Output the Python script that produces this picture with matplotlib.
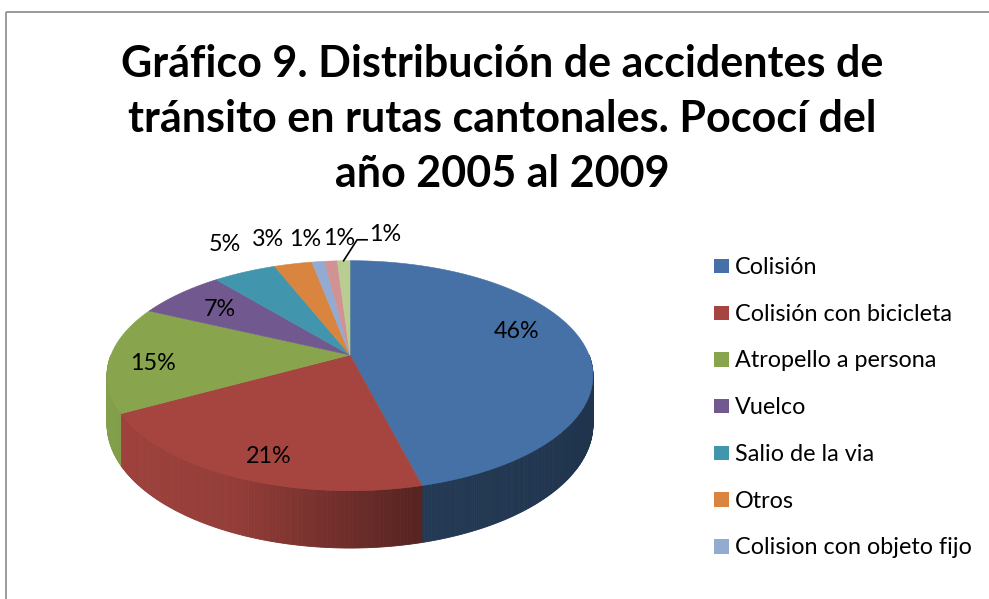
import numpy as np
import matplotlib
matplotlib.use('Agg')
import matplotlib.pyplot as plt
from matplotlib.patches import Polygon, Rectangle

# --- data ------------------------------------------------------------------
title_lines = ['Gráfico 9. Distribución de accidentes de',
               'tránsito en rutas cantonales. Pococí del',
               'año 2005 al 2009']

# only the first 7 names fit into the original legend
categories = ['Colisión', 'Colisión con bicicleta', 'Atropello a persona',
              'Vuelco', 'Salio de la via', 'Otros', 'Colision con objeto fijo']
percentages = [46, 21, 15, 7, 5, 3, 1, 1, 1]
pct_labels = ['46%', '21%', '15%', '7%', '5%', '3%', '1%', '1%', '1%']

colors = ['#4571a6', '#a6443f', '#88a44d', '#715990', '#4196ad',
          '#d9843f', '#93aad1', '#d09292', '#b9cd92']

# label placement: inside (radius fraction) or outside, plus a nudge in px
inside = [True, True, True, True, False, False, False, False, False]
label_nudge = [(-1, -7), (-4, 25), (-24, 12), (-4, 7),
               (6, 0), (-11, 4), (-5, 7), (13, 7), (43, 3)]
leader = [False] * 8 + [True]

# --- fake 3d pie geometry (perspective view of a flat cylinder) -------------
CX, CY = 350.0, 355.0      # centre of the pie top, pixels
A, S = 239.0, 111.3        # horizontal / vertical radius scale
K = 0.18                   # perspective strength
D = 47.0                   # thickness of the pie


def project(r, th, depth=0.0):
    x = r * np.cos(th)
    y = r * np.sin(th)
    w = 1 + K * y
    return CX + A * x / w, CY - S * y / w + D * depth / w


def wall_shade(c):
    # lighter on the left, dark on the right (like excel's lighting)
    return np.interp(c, [-1, -0.4, 0.25, 1], [0.86, 0.78, 0.45, 0.40])


def darker(col, f):
    rgb = np.array(matplotlib.colors.to_rgb(col))
    return tuple(np.clip(rgb * f / 0.88, 0, 1))


plt.rcParams['font.family'] = ['Lato', 'DejaVu Sans']

fig = plt.figure(figsize=(9.89, 5.99), dpi=100)
ax = fig.add_axes([0, 0, 1, 1])
ax.set_xlim(0, 989)
ax.set_ylim(599, 0)
ax.axis('off')

# chart frame
ax.add_patch(Rectangle((6, 12), 1000, 600, fill=False, edgecolor='#8a8a8a', lw=1.2))

fracs = np.array(percentages) / np.sum(percentages)
cum = np.concatenate([[0], np.cumsum(fracs)])
starts = np.pi / 2 - 2 * np.pi * cum[:-1]
ends = np.pi / 2 - 2 * np.pi * cum[1:]

# side walls (only the front half is visible)
for i in range(len(percentages)):
    hi = min(starts[i], 0.0)
    lo = max(ends[i], -np.pi)
    if hi <= lo:
        continue
    ts = np.linspace(hi, lo, max(int((hi - lo) * 120), 2))
    for t0, t1 in zip(ts[:-1], ts[1:]):
        pts = [project(1, t0), project(1, t1), project(1, t1, 1), project(1, t0, 1)]
        c = darker(colors[i], wall_shade(np.cos((t0 + t1) / 2)))
        ax.add_patch(Polygon(pts, closed=True, facecolor=c, edgecolor=c, lw=0.6, zorder=1))

# tops
for i in range(len(percentages)):
    ts = np.linspace(starts[i], ends[i], 200)
    pts = [project(0, 0)] + [project(1, t) for t in ts]
    ax.add_patch(Polygon(pts, closed=True, facecolor=colors[i], edgecolor=colors[i],
                         lw=0.4, zorder=2))

# percentage labels
for i, lab in enumerate(pct_labels):
    mid = (starts[i] + ends[i]) / 2
    r = 0.72 if inside[i] else 1.3
    x, y = project(r, mid)
    x += label_nudge[i][0]
    y += label_nudge[i][1]
    ax.text(x, y, lab, ha='center', va='baseline', fontsize=16.8, color='black', zorder=4)
    if leader[i]:
        x0, y0 = project(1.0, mid)
        ax.plot([x0, x - 28, x - 18], [y0, y - 1, y - 1], color='black', lw=1.2, zorder=4)

# title
for i, line in enumerate(title_lines):
    ax.text(502, 77 + i * 55, line, ha='center', va='baseline', fontsize=31,
            fontweight='bold', color='black')

# legend (entries that do not fit are left out, as in the original)
for i, name in enumerate(categories):
    yc = 266 + i * 46.7
    ax.add_patch(Rectangle((714, yc - 7.2), 14.5, 14.5, facecolor=colors[i], edgecolor='none'))
    ax.text(735, yc + 8, name, ha='left', va='baseline', fontsize=16.8, color='black')

fig.savefig('out.png', dpi=100)
